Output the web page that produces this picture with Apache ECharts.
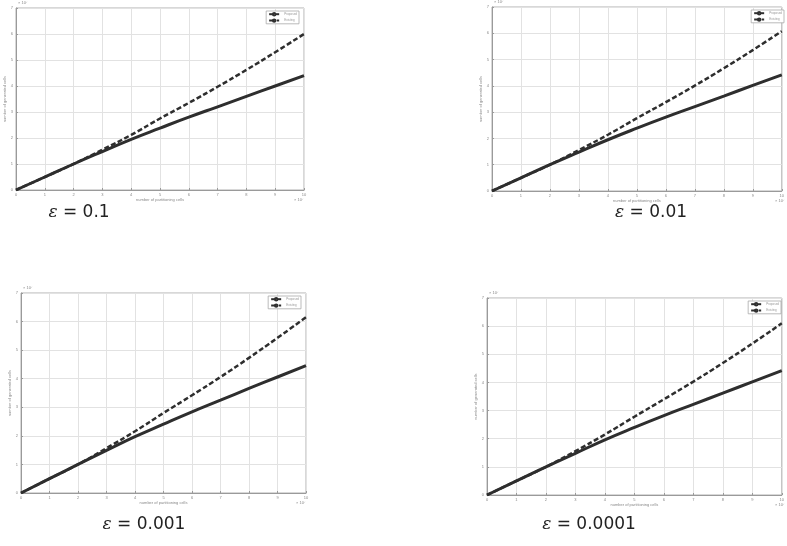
<!DOCTYPE html>
<html>
<head>
<meta charset="utf-8">
<script src="https://cdn.jsdelivr.net/npm/echarts@6/dist/echarts.min.js"></script>
<style>html,body{margin:0;padding:0;background:#fff}#c{width:787px;height:546px}</style>
</head>
<body>
<div id="c"></div>
<script>
// ---- data ----
const xValues = [0, 1, 2, 3, 4, 5, 6, 7, 8, 9, 10];
const panelValues = ['0.1', '0.01', '0.001', '0.0001'];
const seriesNames = ['Proposed', 'Existing'];
const solid1 = [0, 0.5, 1.0, 1.48, 1.95, 2.38, 2.8, 3.2, 3.6, 4.0, 4.4];
const dashed1 = [0, 0.5, 1.0, 1.55, 2.12, 2.75, 3.35, 3.97, 4.62, 5.3, 6.0];
const solid2 = [0, 0.5, 1.0, 1.48, 1.95, 2.39, 2.81, 3.21, 3.61, 4.02, 4.42];
const dashed2 = [0, 0.5, 1.0, 1.56, 2.14, 2.77, 3.38, 4.01, 4.67, 5.36, 6.08];
const solid3 = [0, 0.5, 1.0, 1.49, 1.97, 2.41, 2.84, 3.25, 3.66, 4.06, 4.46];
const dashed3 = [0, 0.5, 1.0, 1.57, 2.16, 2.8, 3.42, 4.06, 4.73, 5.43, 6.15];
const solid4 = [0, 0.5, 1.0, 1.48, 1.96, 2.4, 2.82, 3.22, 3.62, 4.02, 4.42];
const dashed4 = [0, 0.5, 1.0, 1.56, 2.15, 2.78, 3.4, 4.03, 4.69, 5.38, 6.1];
const yTicks = [0, 1, 2, 3, 4, 5, 6, 7];
const xTitle = 'number of partitioning cells';
const yTitle = 'number of generated cells';
const expLabel = '× 10⁷';

const solids = [solid1, solid2, solid3, solid4];
const dashes = [dashed1, dashed2, dashed3, dashed4];

const grids = [
  {left: 16, top: 8, width: 288, height: 182},
  {left: 492, top: 7, width: 297, height: 184},
  {left: 21, top: 293, width: 285, height: 200},
  {left: 487, top: 298, width: 299, height: 197}
];
const labelPos = [[79, 213], [651, 213], [144, 525], [589, 525]];

const chart = echarts.init(document.getElementById('c'), null, {renderer: 'canvas'});
const axisColor = '#9a9a9a';
const lineColor = '#2e2e2e';
const xAxes = [], yAxes = [], series = [], legends = [], graphics = [];
grids.forEach((g, i) => {
  xAxes.push({
    type: 'value', gridIndex: i, min: 0, max: 10, interval: 1,
    axisLine: {show: true, onZero: false, lineStyle: {color: axisColor, width: 1}},
    axisTick: {show: true, inside: true, length: 2, lineStyle: {color: axisColor}},
    axisLabel: {fontSize: 4, color: '#888', margin: 3},
    splitLine: {show: true, lineStyle: {color: '#e2e2e2', width: 1}},
    name: xTitle, nameLocation: 'middle', nameGap: 7,
    nameTextStyle: {fontSize: 4, color: '#888'}
  });
  yAxes.push({
    type: 'value', gridIndex: i, min: 0, max: 7, interval: 1,
    axisLine: {show: true, onZero: false, lineStyle: {color: axisColor, width: 1}},
    axisTick: {show: true, inside: true, length: 2, lineStyle: {color: axisColor}},
    axisLabel: {fontSize: 4, color: '#888', margin: 3,
      formatter: v => yTicks.indexOf(v) >= 0 ? String(v) : ''},
    splitLine: {show: true, lineStyle: {color: '#e2e2e2', width: 1}},
    name: yTitle, nameLocation: 'middle', nameGap: 8,
    nameTextStyle: {fontSize: 4, color: '#888'}
  });
  const sd = xValues.map((x, k) => [x, solids[i][k]]);
  const dd = xValues.map((x, k) => [x, dashes[i][k]]);
  series.push({
    name: seriesNames[0], type: 'line', xAxisIndex: i, yAxisIndex: i,
    data: sd, smooth: true, showSymbol: false, silent: true, color: lineColor,
    itemStyle: {color: lineColor},
    lineStyle: {color: lineColor, width: 3}
  });
  series.push({
    name: seriesNames[1], type: 'line', xAxisIndex: i, yAxisIndex: i,
    data: dd, smooth: true, showSymbol: false, silent: true, color: lineColor,
    itemStyle: {color: lineColor},
    lineStyle: {color: lineColor, width: 2.5, type: [5, 2.5]}
  });
  const gr = g.left + g.width;
  legends.push({
    data: seriesNames, orient: 'vertical',
    right: Math.max(787 - gr + 5, 2), top: g.top + 3,
    itemWidth: 10, itemHeight: 3, itemGap: 2, padding: [1, 2, 1, 2],
    backgroundColor: '#fff', borderColor: '#aaa', borderWidth: 0.8,
    textStyle: {fontSize: 3, color: '#999'},
    selectedMode: false
  });
  graphics.push({
    type: 'text', left: g.left + 2, top: g.top - 7,
    style: {text: expLabel, fontSize: 4, fill: '#888'}
  });
  graphics.push({
    type: 'text', left: Math.min(gr - 10, 775), top: g.top + g.height + 8,
    style: {text: expLabel, fontSize: 4, fill: '#888'}
  });
  graphics.push({
    type: 'text', x: labelPos[i][0], y: labelPos[i][1],
    style: {
      text: '{e|ε} = ' + panelValues[i],
      fontSize: 17, fontFamily: 'DejaVu Sans', fill: '#222',
      align: 'center', verticalAlign: 'middle',
      rich: {e: {fontSize: 17, fontStyle: 'italic', fontFamily: 'DejaVu Serif', fill: '#222'}}
    }
  });
});

chart.setOption({
  backgroundColor: '#fff',
  animation: false,
  grid: grids.map(g => Object.assign({show: true, borderColor: '#b0b0b0', borderWidth: 1, backgroundColor: '#fff'}, g)),
  xAxis: xAxes,
  yAxis: yAxes,
  legend: legends,
  series: series,
  graphic: graphics
});
</script>
</body>
</html>
